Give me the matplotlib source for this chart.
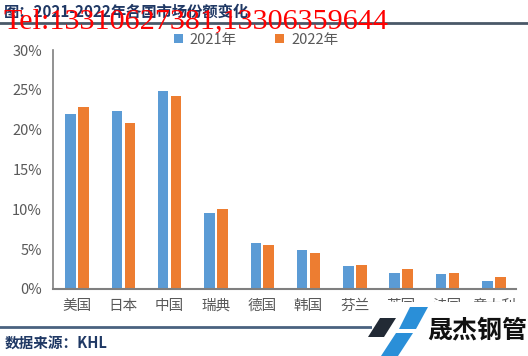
import numpy as np
import matplotlib
matplotlib.use('Agg')
import matplotlib.pyplot as plt
from matplotlib.patches import Polygon, Rectangle
from matplotlib.lines import Line2D

plt.rcParams['font.family'] = ['Noto Sans CJK SC', 'DejaVu Sans']

countries = ['美国', '日本', '中国', '瑞典', '德国', '韩国', '芬兰', '英国', '法国', '意大利']
share_2021 = [22.0, 22.3, 24.9, 9.5, 5.8, 4.85, 2.9, 1.95, 1.85, 1.0]
share_2022 = [22.8, 20.8, 24.2, 10.0, 5.55, 4.5, 3.05, 2.45, 1.95, 1.5]
y_ticks = [0, 5, 10, 15, 20, 25, 30]

W, H = 528, 356
fig = plt.figure(figsize=(W / 100, H / 100), dpi=100)

def fx(px):
    return px / W

def fy(py):
    return 1 - py / H

ax = fig.add_axes([fx(53), fy(289), fx(516) - fx(53), fy(50) - fy(289)])

x = np.arange(len(countries))
bw = 0.228
b1 = ax.bar(x - 0.14, share_2021, bw, color='#5B9BD5', label='2021年')
b2 = ax.bar(x + 0.14, share_2022, bw, color='#ED7D31', label='2022年')

ax.set_xlim(-0.52, 9.48)
ax.set_ylim(0, 30)
ax.set_yticks(y_ticks)
ax.set_yticklabels([f'{v}%' for v in y_ticks])
ax.set_xticks(x)
ax.set_xticklabels(countries)
ax.tick_params(axis='both', length=0, labelsize=10.5, labelcolor='#595959')
ax.tick_params(axis='y', pad=8)
ax.tick_params(axis='x', pad=7)
for s in ['top', 'right']:
    ax.spines[s].set_visible(False)
ax.spines['left'].set_color('#7f7f7f')
ax.spines['bottom'].set_color('#7f7f7f')
ax.spines['left'].set_linewidth(1.2)
ax.spines['bottom'].set_linewidth(1.5)

fig.legend(handles=[b1, b2], loc='center', bbox_to_anchor=(fx(256), fy(40)), ncol=2,
           frameon=False, fontsize=10.5, labelcolor='#595959', handlelength=0.6,
           handleheight=0.6, handletextpad=0.5, columnspacing=2.6)

# title + header line (the red phone watermark sits on top of the title, as in the source)
fig.text(fx(4), fy(12), '图：2021-2022年各国市场份额变化', fontsize=11, fontweight='bold',
         color='#1F3864', va='center', ha='left')
fig.add_artist(Line2D([0, 1], [fy(23), fy(23)], color='#4A5868', lw=2))
fig.text(fx(3), fy(28), 'Tel:13310627381,13306359644', fontsize=21.7,
         family='Liberation Serif', color='#FF0000', va='baseline', ha='left')

# footer
fig.add_artist(Line2D([0, fx(372)], [fy(327), fy(327)], color='#4A6280', lw=2))
fig.text(fx(5), fy(343), '数据来源：KHL', fontsize=10.5, fontweight='bold',
         color='#1F3864', va='center', ha='left')

# logo block
fig.add_artist(Rectangle((fx(372), 0), 1 - fx(372), fy(302), transform=fig.transFigure,
                         facecolor='white', edgecolor='none', zorder=5))
dark = [(380, 318), (396, 318), (384, 337), (368, 337)]
blue_top = [(410, 307), (428, 307), (416, 329), (399, 329)]
blue_low = [(396, 333), (413, 333), (398, 356), (381, 356)]
fig.add_artist(Polygon([(fx(a), fy(b)) for a, b in dark], closed=True,
                       transform=fig.transFigure, facecolor='#222A35', edgecolor='none', zorder=6))
for shape in [blue_top, blue_low]:
    fig.add_artist(Polygon([(fx(a), fy(b)) for a, b in shape], closed=True,
                           transform=fig.transFigure, facecolor='#2A8FD8', edgecolor='none', zorder=6))
fig.text(fx(477), fy(331), '晟杰钢管', fontsize=18, fontweight='bold', color='#111111',
         ha='center', va='center', zorder=7)

fig.savefig('out.png', dpi=100)
